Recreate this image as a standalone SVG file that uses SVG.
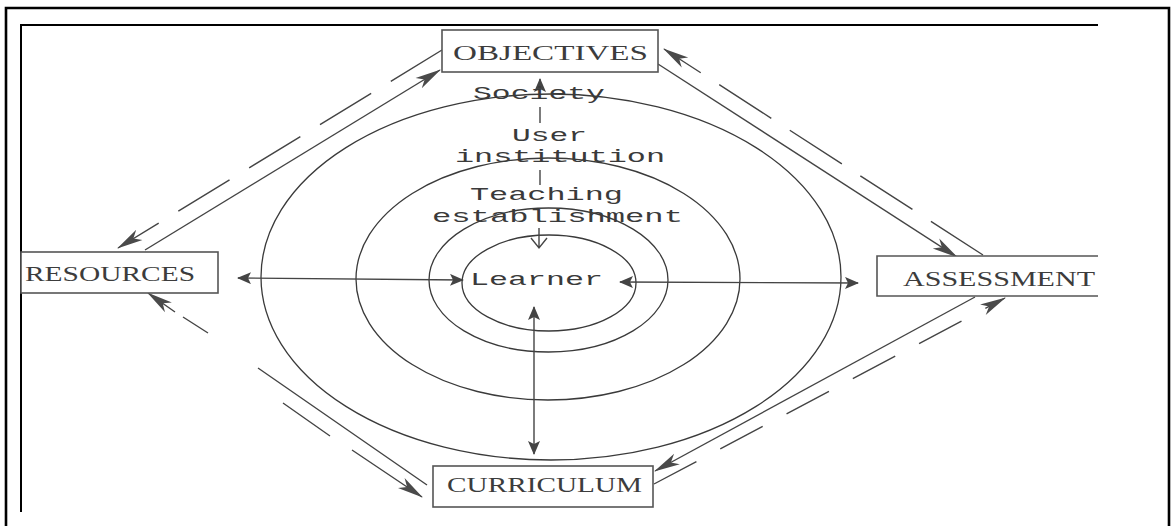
<svg xmlns="http://www.w3.org/2000/svg" width="1171" height="526" viewBox="0 0 1171 526">
<style>
.frame{fill:none;stroke:#000;}
.box{fill:#fff;stroke:#555;stroke-width:1.6;}
.lbl{font-family:"Liberation Serif","Times New Roman",serif;font-size:20px;fill:#3c3c3c;}
.tw{font-family:"Liberation Mono","Courier New",monospace;font-size:19px;fill:#3a3a3a;}
.ring{fill:none;stroke:#3a3a3a;stroke-width:1.3;}
.ln{fill:none;stroke:#444;stroke-width:1.4;}
.big{marker-end:url(#arr);}
</style>
<defs>
<marker id="arr" viewBox="0 0 26 14" markerWidth="26" markerHeight="14" refX="25" refY="7" orient="auto" markerUnits="userSpaceOnUse">
<path d="M0,1 L26,7 L0,13 L7,7 Z" fill="#4a4a4a"/>
</marker>
<marker id="sm" viewBox="0 0 14 12" markerWidth="14" markerHeight="12" refX="13" refY="6" orient="auto-start-reverse" markerUnits="userSpaceOnUse">
<path d="M0,0 L14,6 L0,12 L3,6 Z" fill="#444"/>
</marker>
</defs>
<rect width="1171" height="526" fill="#fff"/>
<!-- frames -->
<path class="frame" stroke-width="2.6" d="M6,540 V8 H1169 V540"/>
<path class="frame" stroke-width="2" d="M21,512 V25 H1098"/>

<!-- rings -->
<g id="rings">
<ellipse class="ring" cx="551" cy="277" rx="290" ry="183"/>
<ellipse class="ring" cx="548" cy="279" rx="192" ry="121"/>
<ellipse class="ring" cx="548.5" cy="280" rx="119.5" ry="72"/>
<ellipse class="ring" cx="549" cy="283" rx="87" ry="48"/>
</g>

<!-- connectors -->
<g id="connectors">
<!-- top-left -->
<path class="ln big" d="M145,250 L440,70"/>
<path class="ln big" d="M442,50 L118,248" stroke-dasharray="60 23"/>
<!-- top-right -->
<path class="ln big" d="M658,64 L957,257"/>
<path class="ln big" d="M983,255 L664,49" stroke-dasharray="62 22"/>
<!-- bottom-right -->
<path class="ln big" d="M975,297 L655,471"/>
<path class="ln big" d="M654,484 L1005,298" stroke-dasharray="48 27"/>
<!-- bottom-left -->
<path class="ln big" d="M427,485 L258,368 M208,333 L183,317 M175,312 L148,293"/>
<path class="ln big" d="M283,403 L330,436 M352,450 L422,497"/>
<!-- centre cross -->
<path class="ln" d="M238,278 L463,280" marker-start="url(#sm)" marker-end="url(#sm)"/>
<path class="ln" d="M620,282 L858,283" marker-start="url(#sm)" marker-end="url(#sm)"/>
<path class="ln" stroke-width="1.8" d="M534,307 L534,454" marker-start="url(#sm)" marker-end="url(#sm)"/>
<!-- vertical chain -->
<path class="ln" d="M540,90 L540,79" marker-end="url(#sm)"/>
<path class="ln" d="M540,107 L540,123"/>
<path class="ln" d="M540,170 L540,185"/>
<path class="ln" d="M539,228 L539,248 M531,238 L539,248 L547,238"/>
</g>

<!-- nodes -->
<g id="node-objectives">
<rect class="box" x="442" y="30" width="216" height="42"/>
<text class="lbl" x="453" y="60" textLength="195" lengthAdjust="spacingAndGlyphs">OBJECTIVES</text>
</g>
<g id="node-resources">
<rect class="box" x="21" y="252" width="197" height="41"/>
<text class="lbl" x="25" y="281" textLength="170" lengthAdjust="spacingAndGlyphs">RESOURCES</text>
</g>
<g id="node-assessment">
<rect x="877" y="256" width="221" height="40" fill="#fff"/>
<path class="box" fill="none" d="M1098,256 H877 V296 H1098"/>
<text class="lbl" x="903" y="286" textLength="192" lengthAdjust="spacingAndGlyphs">ASSESSMENT</text>
</g>
<g id="node-curriculum">
<rect class="box" x="433" y="466" width="220" height="41"/>
<text class="lbl" x="447" y="492" textLength="195" lengthAdjust="spacingAndGlyphs">CURRICULUM</text>
</g>
<g id="node-society">
<text class="tw" x="473" y="99" textLength="132" lengthAdjust="spacingAndGlyphs">Society</text>
</g>
<g id="node-user-institution">
<text class="tw" x="512" y="141" textLength="75" lengthAdjust="spacingAndGlyphs">User</text>
<text class="tw" x="455" y="162" textLength="210" lengthAdjust="spacingAndGlyphs">institution</text>
</g>
<g id="node-teaching-establishment">
<text class="tw" x="470" y="200" textLength="153" lengthAdjust="spacingAndGlyphs">Teaching</text>
<text class="tw" x="432" y="222" textLength="251" lengthAdjust="spacingAndGlyphs">establishment</text>
</g>
<g id="node-learner">
<text class="tw" x="470" y="285" textLength="133" lengthAdjust="spacingAndGlyphs">Learner</text>
</g>
</svg>
